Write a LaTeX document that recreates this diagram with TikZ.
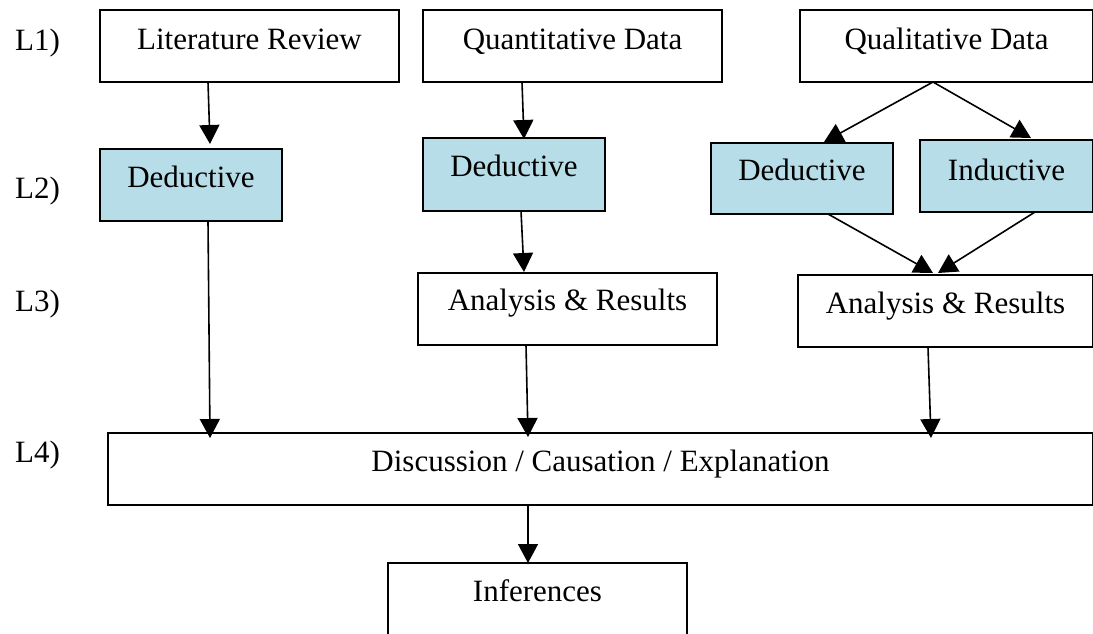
\documentclass[tikz,border=0pt]{standalone}
\usepackage{fontspec}
\setmainfont{Liberation Serif}
\usetikzlibrary{arrows.meta,calc}

\definecolor{paleblue}{RGB}{183,221,232}

\tikzset{
  box/.style={draw=black, line width=1.8pt, fill=white, rectangle,
    inner sep=0pt, outer sep=0pt, anchor=north west,
    text height=38pt, text depth=34pt, minimum height=72pt,
    font=\fontsize{31}{37}\selectfont},
  topbox/.style={box, text height=39pt, text depth=33pt},
  method/.style={box, fill=paleblue},
  level/.style={anchor=base west, inner sep=0pt, font=\fontsize{31}{37}\selectfont},
  arr/.style={draw=black, line width=1.6pt,
    -{Triangle[length=19pt,width=20pt]}}
}

\begin{document}
\begin{tikzpicture}[x=1pt,y=-1pt]
  \useasboundingbox (0,0) rectangle (1093,633);
  \clip (0,0) rectangle (1093,633);
  \fill[white] (0,0) rectangle (1093,633);

  % level labels
  \node[level] (l1) at (15,50) {L1)};
  \node[level] (l2) at (15,198) {L2)};
  \node[level] (l3) at (15,311) {L3)};
  \node[level] (l4) at (15,462) {L4)};

  % L1: sources
  \node[topbox, minimum width=299] (lit)   at (100,10) {Literature Review};
  \node[topbox, minimum width=299] (quant) at (423,10) {Quantitative Data};
  \node[topbox, minimum width=293] (qual)  at (800,10) {Qualitative Data};

  % L2: reasoning
  \node[method, minimum width=182] (dedL) at (100,149) {Deductive};
  \node[method, minimum width=182, minimum height=73, text depth=35pt] (dedM) at (423,138) {Deductive};
  \node[method, minimum width=182, minimum height=71, text height=37pt] (dedR) at (711,143) {Deductive};
  \node[method, minimum width=173, text height=40pt, text depth=32pt] (ind) at (920,140) {Inductive};

  % L3: analysis
  \node[box, minimum width=299, text height=37pt, text depth=35pt] (anM) at (418,273) {Analysis \& Results};
  \node[box, minimum width=295] (anR) at (798,275) {Analysis \& Results};

  % L4 and conclusion
  \node[box, minimum width=985] (disc) at (108,433) {Discussion / Causation / Explanation};
  \node[box, minimum width=299, minimum height=80, text depth=42pt] (inf) at (388,563) {Inferences};

  % connectors
  \draw[arr] ($(lit.south west)+(108,0)$)   -- ($(dedL.north west)+(110,-5)$);
  \draw[arr] ($(quant.south west)+(99,0)$)  -- ($(dedM.north west)+(101,1)$);
  \draw[arr] ($(dedM.south west)+(98,0)$)   -- ($(anM.north west)+(106,-1)$);
  \draw[arr] ($(qual.south west)+(133,0)$)  -- ($(dedR.north west)+(113,-1)$);
  \draw[arr] ($(qual.south west)+(133,0)$)  -- ($(ind.north west)+(111,-2)$);
  \draw[arr] ($(dedR.south west)+(117,0)$)  -- ($(anR.north west)+(135,-2)$);
  \draw[arr] ($(ind.south west)+(115,0)$)   -- ($(anR.north west)+(140,-2)$);
  \draw[arr] ($(dedL.south west)+(108,0)$)  -- ($(disc.north west)+(102,5)$);
  \draw[arr] ($(anM.south west)+(108,0)$)   -- ($(disc.north west)+(420,4)$);
  \draw[arr] ($(anR.south west)+(130,0)$)   -- ($(disc.north west)+(823,5)$);
  \draw[arr] ($(disc.south west)+(420,0)$)  -- ($(inf.north west)+(140,0)$);
\end{tikzpicture}
\end{document}
